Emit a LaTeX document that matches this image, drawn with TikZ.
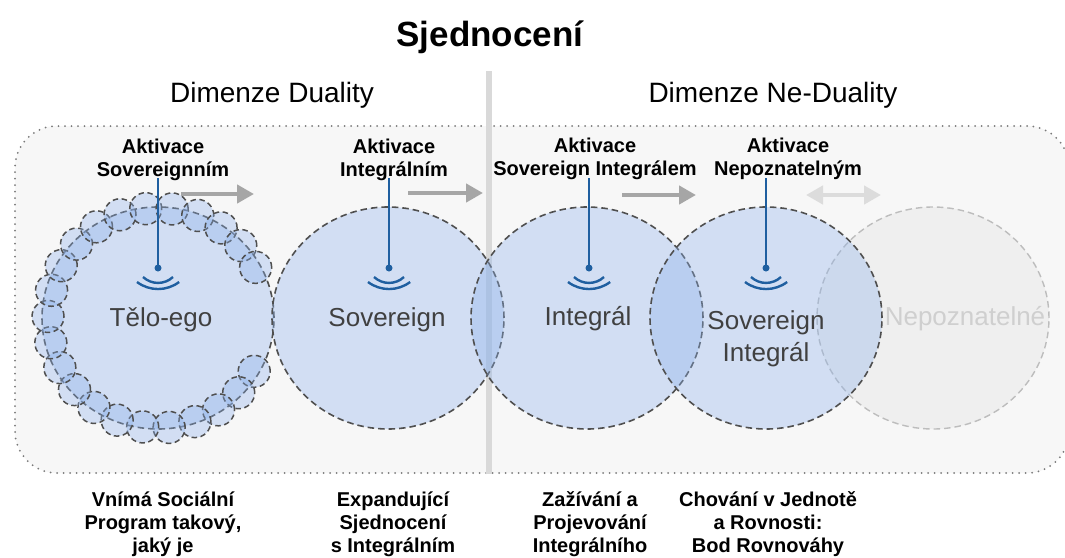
\documentclass[tikz,border=0pt]{standalone}
\usepackage{fontspec}
\setmainfont{Liberation Sans}
\usetikzlibrary{arrows.meta,shapes.geometric,calc}
\definecolor{bgpanel}{HTML}{F7F7F7}
\definecolor{bubblefill}{RGB}{141,178,236}
\definecolor{dashgray}{HTML}{4F4F4F}
\definecolor{antblue}{RGB}{31,95,160}
\definecolor{arrgray}{HTML}{A6A6A6}
\definecolor{arrlight}{HTML}{DCDCDC}
\definecolor{txtdark}{HTML}{404040}
\definecolor{nepfill}{HTML}{EFEFEF}
\definecolor{nepline}{HTML}{BDBDBD}
\definecolor{neptext}{HTML}{CFCFCF}
\definecolor{divider}{HTML}{D9D9D9}
\definecolor{dotgray}{HTML}{7A7A7A}
\begin{document}
\begin{tikzpicture}[x=1pt,y=-1pt,
  panelbox/.style={rectangle, rounded corners=42pt, fill=bgpanel, draw=dotgray, line width=2pt, line cap=round, dash pattern=on 0pt off 6.5pt, inner sep=0pt},
  bubble/.style={ellipse, minimum width=232pt, minimum height=222pt, inner sep=0pt, fill=bubblefill, fill opacity=0.35, draw=dashgray, draw opacity=1, line width=1.6pt, dash pattern=on 6.5pt off 4pt},
  bead/.style={circle, minimum size=32pt, inner sep=0pt, fill=bubblefill, fill opacity=0.35, draw=dashgray, draw opacity=1, line width=1.5pt, dash pattern=on 5.5pt off 3.5pt},
  nepbubble/.style={ellipse, minimum width=232pt, minimum height=222pt, inner sep=0pt, fill=nepfill, draw=nepline, line width=1.4pt, dash pattern=on 6.5pt off 4pt},
  bubbletext/.style={font=\fontsize{26}{32}\selectfont, text=txtdark, anchor=base, inner sep=0pt},
  lbl/.style={font=\bfseries\fontsize{20}{23}\selectfont, align=center, anchor=base, inner sep=0pt},
  heading/.style={font=\fontsize{28}{32}\selectfont, anchor=base, inner sep=0pt},
  antline/.style={draw=antblue, line width=1.8pt},
  antdot/.style={circle, fill=antblue, minimum size=7pt, inner sep=0pt},
  wave/.style={draw=antblue, line width=2.4pt},
  grayarrow/.style={draw=arrgray, line width=4.5pt, -{Triangle[length=17pt,width=18pt]}},
  lightarrow/.style={draw=arrlight, line width=4.5pt, {Triangle[length=17pt,width=18pt]}-{Triangle[length=17pt,width=18pt]}}
]
\useasboundingbox (0,0) rectangle (1065,557);
\fill[white] (0,0) rectangle (1065,557);

% panel
\node[panelbox, minimum width=1054pt, minimum height=347pt] (panel) at (542,299.5) {};

% divider
\coordinate (divtop) at (489,71);
\coordinate (divbot) at (489,474);
\draw[draw=divider, line width=6pt] (divtop) -- (divbot);

% headings
\node[font=\bfseries\fontsize{35}{40}\selectfont, anchor=base, inner sep=0pt] (title) at (490,46) {Sjednocení};
\node[heading] (hdual) at (272,102) {Dimenze Duality};
\node[heading] (hnondual) at (773,102) {Dimenze Ne-Duality};

% bubbles
\node[nepbubble] (nep) at (933,318) {};
\node[bubble] (tel) at (158,318) {};
\node[bubble] (sov) at (388,318) {};
\node[bubble] (int) at (587,318) {};
\node[bubble] (si) at (766,318) {};

% beads around Tělo-ego
\foreach \i in {0,...,22} {
  \pgfmathsetmacro{\ang}{29+13.8*\i}
  \node[bead] (bead\i) at ($(158,318)+(\ang:110)$) {};
}

% bubble texts
\node[bubbletext] (ttel) at (161,326) {Tělo-ego};
\node[bubbletext] (tsov) at (387,326) {Sovereign};
\node[bubbletext] (tint) at (588,325) {Integrál};
\node[bubbletext] (tsi1) at (766,329) {Sovereign};
\node[bubbletext] (tsi2) at (766,361) {Integrál};
\node[bubbletext, text=neptext] (tnep) at (965,325) {Nepoznatelné};

% activation labels (anchor = baseline of last line)
\node[lbl] (act1) at (163,176) {Aktivace\\Sovereignním};
\node[lbl] (act2) at (394,176) {Aktivace\\Integrálním};
\node[lbl] (act3) at (595,175) {Aktivace\\Sovereign Integrálem};
\node[lbl] (act4) at (788,175) {Aktivace\\Nepoznatelným};

% antennas
\foreach \n/\x in {a/158, b/389, c/589, d/766} {
  \coordinate (top\n) at (\x,178);
  \node[antdot] (dot\n) at (\x,268) {};
  \draw[antline] (top\n) -- (dot\n.center);
  \draw[wave] ([shift={(-15,9)}]dot\n.center) arc[start angle=133, end angle=47, radius=22];
  \draw[wave] ([shift={(-21,14)}]dot\n.center) arc[start angle=127, end angle=53, radius=35];
}

% arrows
\coordinate (ar1s) at (181,194); \coordinate (ar1e) at (254,194);
\coordinate (ar2s) at (408,193); \coordinate (ar2e) at (483,193);
\coordinate (ar3s) at (622,195); \coordinate (ar3e) at (696,195);
\coordinate (ar4s) at (806,195); \coordinate (ar4e) at (881,195);
\draw[grayarrow] (ar1s) -- (ar1e);
\draw[grayarrow] (ar2s) -- (ar2e);
\draw[grayarrow] (ar3s) -- (ar3e);
\draw[lightarrow] (ar4s) -- (ar4e);

% bottom descriptions (anchor = baseline of last line)
\node[lbl] (d1) at (163,552) {Vnímá Sociální\\Program takový,\\jaký je};
\node[lbl] (d2) at (393,552) {Expandující\\Sjednocení\\s Integrálním};
\node[lbl] (d3) at (590,552) {Zažívání a\\Projevování\\Integrálního};
\node[lbl] (d4) at (768,552) {Chování v Jednotě\\a Rovnosti:\\Bod Rovnováhy};
\end{tikzpicture}
\end{document}
